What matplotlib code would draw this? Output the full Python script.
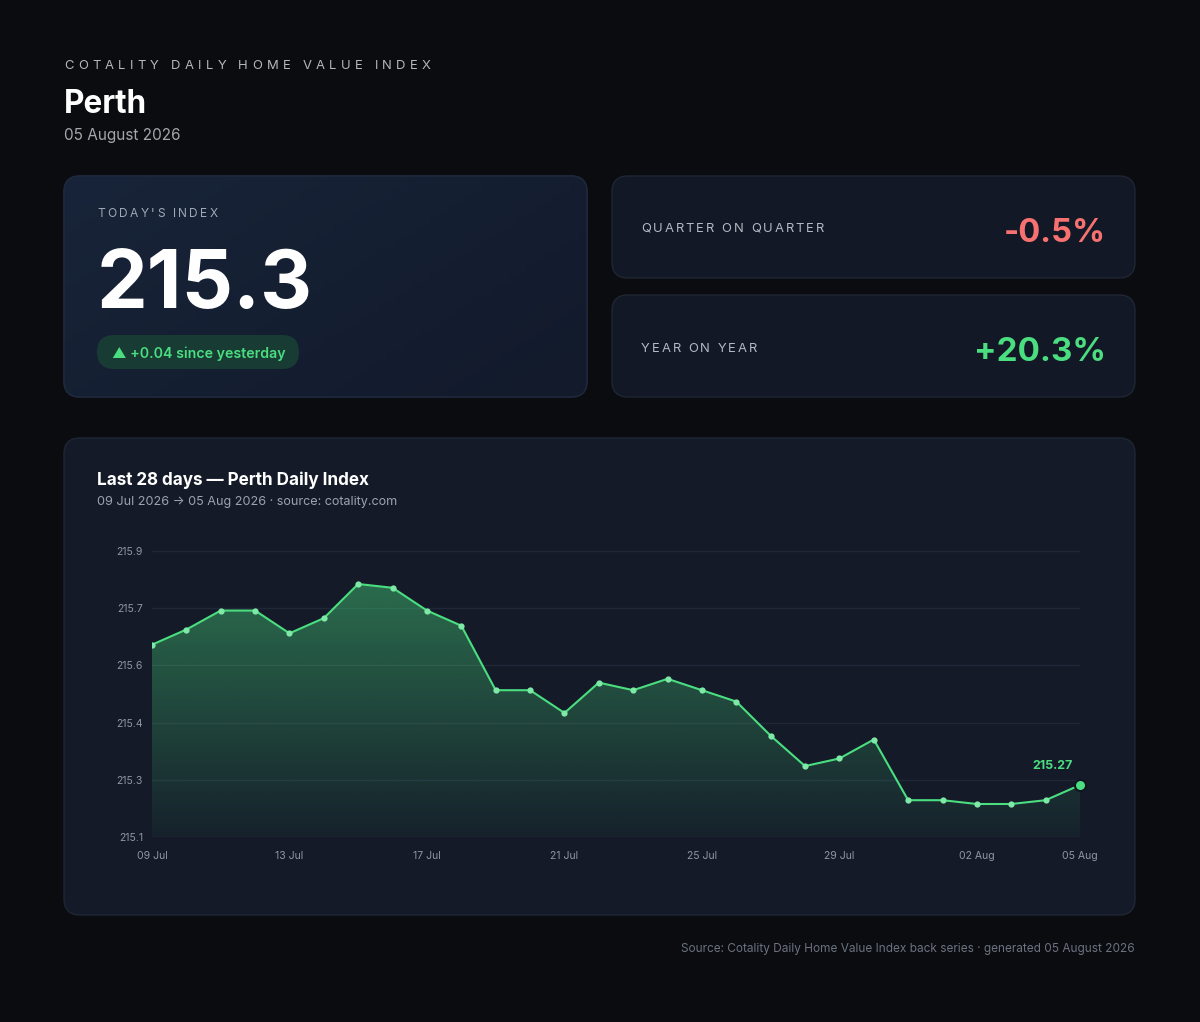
import matplotlib
matplotlib.use("Agg")
import matplotlib.pyplot as plt
import matplotlib.colors as mcolors
from matplotlib.patches import FancyBboxPatch
from matplotlib.font_manager import FontProperties
import numpy as np
import pandas as pd

# ---- data ----
dates = pd.date_range("2026-07-09", "2026-08-05", freq="D")
values = [215.64, 215.68, 215.73, 215.73, 215.67, 215.71, 215.80, 215.79,
          215.73, 215.69, 215.52, 215.52, 215.46, 215.54, 215.52, 215.55,
          215.52, 215.49, 215.40, 215.32, 215.34, 215.39, 215.23, 215.23,
          215.22, 215.22, 215.23, 215.27]
tick_idx = [0, 4, 8, 12, 16, 20, 24, 27]
qoq = -0.5
yoy = 20.3

city = "Perth"
as_of = "05 August 2026"

FONT = ["Inter", "DejaVu Sans"]
BG = "#0b0c10"
CARD = "#131826"
EDGE = "#1f2634"
GREEN = "#4ade80"
RED = "#f87171"
MUTED = "#9ca3af"

W, H = 1200, 1022
fig = plt.figure(figsize=(W / 100, H / 100), dpi=100, facecolor=BG)
bg = fig.add_axes([0, 0, 1, 1])
bg.set_xlim(0, W)
bg.set_ylim(H, 0)
bg.axis("off")
r = fig.canvas.get_renderer()

PX = 0.72  # px -> pt


def text_w(s, size_px, weight="normal"):
    prop = FontProperties(family=FONT, weight=weight, size=size_px * PX)
    w, h, d = r.get_text_width_height_descent(s, prop, ismath=False)
    return w


def spaced(x, y, s, size_px, width, color, weight="normal"):
    # letter-spaced text stretched to the width seen in the reference
    base = text_w("xx", size_px, weight)
    a = [text_w("x" + c + "x", size_px, weight) - base for c in s]
    sp = (width - sum(a)) / (len(s) - 1)
    cx = x
    for c, w in zip(s, a):
        if c != " ":
            bg.text(cx, y, c, fontsize=size_px * PX, color=color, family=FONT,
                    weight=weight, ha="left", va="baseline", zorder=5)
        cx += w + sp


def fit(x, y, s, size_px, width, color, weight="normal", ha="left"):
    size = size_px * width / text_w(s, size_px, weight)
    bg.text(x, y, s, fontsize=size * PX, color=color, family=FONT,
            weight=weight, ha=ha, va="baseline", zorder=5)


def card(x0, y0, x1, y1, fc=CARD, ec=EDGE):
    p = FancyBboxPatch((x0, y0), x1 - x0, y1 - y0,
                       boxstyle="round,pad=0,rounding_size=16",
                       fc=fc, ec=ec, lw=1)
    bg.add_patch(p)
    return p


# header
spaced(64, 69, "COTALITY DAILY HOME VALUE INDEX", 13, 367, "#b4b7be")
fit(64, 113, city, 33, 83, "white", weight="bold")
fit(64, 140, as_of, 16, 117, "#a3a6ad")

# today's index card with diagonal gradient
p1 = card(64, 176, 587, 397, fc="#151e31", ec="#1f2a3d")
c0 = np.array(mcolors.to_rgb("#182439"))
c1 = np.array(mcolors.to_rgb("#121a2b"))
gx, gy = np.meshgrid(np.linspace(0, 1, 60), np.linspace(0, 1, 60))
t = (gx * 0.6 + gy * 0.4)[..., None]
grad = c0 * (1 - t) + c1 * t
im = bg.imshow(grad, extent=[64, 587, 397, 176], origin="upper",
               aspect="auto", zorder=1.5)
im.set_clip_path(p1)
edge1 = FancyBboxPatch((64, 176), 523, 221,
                       boxstyle="round,pad=0,rounding_size=16",
                       fc="none", ec="#1f2a3d", lw=1, zorder=1.6)
bg.add_patch(edge1)

spaced(97, 217, "TODAY'S INDEX", 12, 121, "#a0a8b8")
fit(97, 308, f"{values[-1]:.1f}", 85, 216, "white", weight="bold")

pill = FancyBboxPatch((97, 335), 202, 34,
                      boxstyle="round,pad=0,rounding_size=17",
                      fc="#183b34", ec="none", zorder=2)
bg.add_patch(pill)
chg = values[-1] - values[-2]
fit(112, 358, f"\u25B2 {chg:+.2f} since yesterday", 15.5, 172, GREEN,
    weight="semibold")

# quarter / year cards
card(612, 176, 1135, 278)
card(612, 295, 1135, 397)
spaced(641, 232, "QUARTER ON QUARTER", 13, 183, "#b4b9c4")
spaced(641, 352, "YEAR ON YEAR", 13, 116, "#b4b9c4")
fit(1106, 242, f"{qoq:.1f}%", 37, 102, RED, weight="bold", ha="right")
fit(1106, 361, f"{yoy:+.1f}%", 37, 132, GREEN, weight="bold", ha="right")

# chart card
card(64, 438, 1135, 915, fc="#141a28")
fit(97, 485, "Last 28 days \u2014 Perth Daily Index", 18, 273, "white",
    weight="bold")
sub = (f"{dates[0]:%d %b %Y} \u2192 {dates[-1]:%d %b %Y} \u00b7 "
       "source: cotality.com")
fit(97, 505, sub, 14, 303, MUTED)

fit(1135, 952, f"Source: Cotality Daily Home Value Index back series "
    f"\u00b7 generated {as_of}", 12.5, 455, "#6b7280", ha="right")

# ---- line chart ----
ax = fig.add_axes([152 / W, 1 - 837 / H, (1080 - 152) / W, (837 - 551) / H])
ax.set_facecolor("none")
x = np.arange(len(values))
vmin, vmax = min(values), max(values)
pad = (vmax - vmin) * 0.15
lo, hi = vmin - pad, vmax + pad

yt = np.linspace(lo, hi, 6)
ax.set_yticks(yt)
ax.set_yticklabels([f"{v:.1f}" for v in yt])
ax.set_xticks(tick_idx)
ax.set_xticklabels([f"{dates[i]:%d %b}" for i in tick_idx])
ax.grid(axis="y", color="#202838", lw=1)
ax.set_axisbelow(True)
for s in ax.spines.values():
    s.set_visible(False)
ax.tick_params(length=0, colors="#8e96a3", labelsize=10.5 * PX)
ax.tick_params(axis="y", pad=6.5)
ax.tick_params(axis="x", pad=10)
for lab in ax.get_xticklabels() + ax.get_yticklabels():
    lab.set_family(FONT)

# gradient fill under the line
fill = ax.fill_between(x, values, lo, facecolor="none", edgecolor="none")
g = np.array(mcolors.to_rgb(GREEN))
rgba = np.zeros((200, 1, 4))
rgba[..., :3] = g
rgba[..., 3] = np.linspace(0.42, 0.04, 200)[:, None]
gim = ax.imshow(rgba, extent=[0, len(values) - 1, lo, vmax], origin="upper",
                aspect="auto", zorder=1)
gim.set_clip_path(fill.get_paths()[0], transform=ax.transData)
ax.set_xlim(0, len(values) - 1)
ax.set_ylim(lo, hi)

ax.plot(x, values, color=GREEN, lw=1.5, zorder=3,
        marker="o", ms=4.5, mfc="#7ee8a6", mec="none")
ax.plot(x[-1], values[-1], "o", ms=8, mfc=GREEN, mec="#0f1520", mew=1.5,
        zorder=4, clip_on=False)
ax.annotate(f"{values[-1]:.2f}", (x[-1], values[-1]), xytext=(-19.5, 13.5),
            textcoords="offset points", ha="center", va="center",
            fontsize=12.5 * PX, color=GREEN, weight="bold", family=FONT)

fig.savefig("out.png", dpi=100, facecolor=BG)
